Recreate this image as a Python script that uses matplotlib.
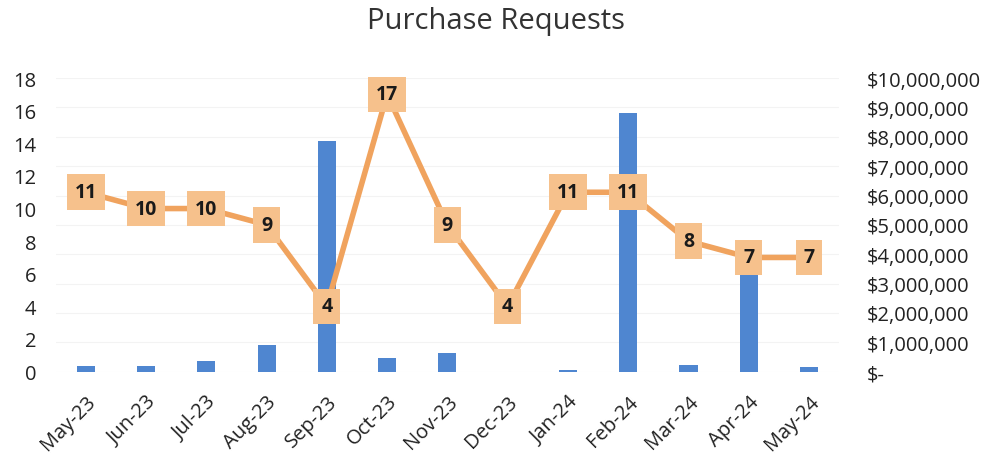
'''
Purchase Requests: request counts (line) and dollar amounts (bars)
'''

import matplotlib.pyplot as plt
from matplotlib.ticker import FuncFormatter

months = ['May-23', 'Jun-23', 'Jul-23', 'Aug-23', 'Sep-23', 'Oct-23', 'Nov-23',
          'Dec-23', 'Jan-24', 'Feb-24', 'Mar-24', 'Apr-24', 'May-24']
request_counts = [11, 10, 10, 9, 4, 17, 9, 4, 11, 11, 8, 7, 7]
request_dollars = [180000, 200000, 350000, 900000, 7850000, 450000, 650000,
                   0, 40000, 8800000, 220000, 3300000, 170000]

plt.rcParams['font.family'] = ['Open Sans', 'DejaVu Sans']

fig = plt.figure(figsize=(9.92, 4.6), dpi=100)
ax = fig.add_axes([0.056, 0.19, 0.79, 0.638])
x = range(len(months))

# bars go on the dollar axis (shown on the right)
ax.bar(x, request_dollars, width=0.3, color='#4f86d0', zorder=2)
ax.set_ylim(0, 10000000)
ax.set_yticks(range(0, 10000001, 1000000))
ax.yaxis.set_major_formatter(FuncFormatter(lambda v, p: '$-' if v == 0 else f'${v:,.0f}'))
ax.grid(axis='y', color='#f3f3f3', linewidth=0.8, zorder=0)

# line with count labels on the left axis
ax2 = ax.twinx()
ax.yaxis.tick_right()
ax2.yaxis.tick_left()
ax2.plot(x, request_counts, color='#f0a35e', linewidth=4, zorder=3)
for i, n in enumerate(request_counts):
    ax2.text(i, n, str(n), ha='center', va='center', fontsize=14, fontweight='bold',
             color='#1a1a1a',
             bbox=dict(boxstyle='square,pad=0.4', fc='#f6c18c', ec='none'))
ax2.set_ylim(0, 18)
ax2.set_yticks(range(0, 19, 2))

ax.set_xlim(-0.5, len(months) - 0.5)
ax.set_xticks(list(x))
ax.set_xticklabels(months, rotation=45, ha='right', rotation_mode='anchor')

for a in (ax, ax2):
    for s in a.spines.values():
        s.set_visible(False)
    a.tick_params(length=0, labelsize=14.5, colors='#222222')
ax.tick_params(axis='x', pad=14)
ax.tick_params(axis='y', pad=20)
ax2.tick_params(axis='y', pad=14)

fig.suptitle('Purchase Requests', fontsize=21, y=0.985, color='#333333')
fig.savefig('out.png', dpi=100)
